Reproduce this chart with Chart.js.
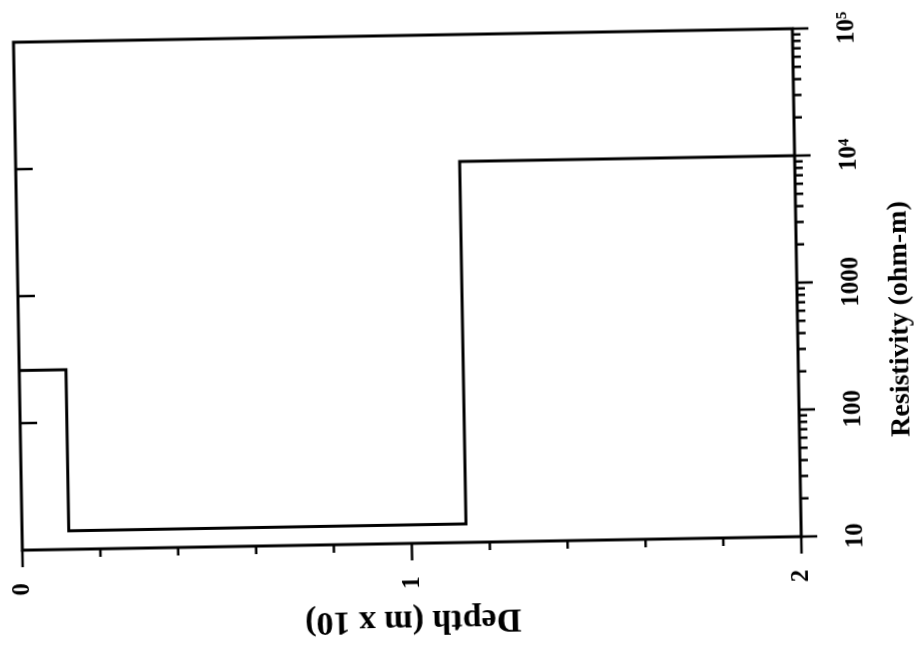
<!DOCTYPE html>
<html><head><meta charset="utf-8">
<script src="https://cdn.jsdelivr.net/npm/chart.js@4.4.0/dist/chart.umd.min.js"></script>
<style>
html,body{margin:0;padding:0;background:#fff;overflow:hidden;width:922px;height:649px;}
#wrap{position:absolute;left:136.5px;top:-136.5px;width:649px;height:922px;transform:rotate(-91deg);transform-origin:50% 50%;}
canvas{display:block;}
</style></head><body>
<div id="wrap"><canvas id="c" width="649" height="922"></canvas></div>
<script>
// Layered resistivity model (depth in m x 10, resistivity in ohm-m)
const layerTops = [0, 0.12, 1.14];
const layerBottoms = [0.12, 1.14, 2];
const layerResistivity = [260, 14, 10000];

// Axis ticks
const resistTickValues = [10, 100, 1000, 10000, 100000];
const resistTickLabels = ['10', '100', '1000', '10⁴', '10⁵'];
const resistMinorMultipliers = [2, 3, 4, 5, 6, 7, 8, 9];
const depthTickValues = [0, 1, 2];
const depthTickLabels = ['0', '1', '2'];
const depthMinorValues = [0.2, 0.4, 0.6, 0.8, 1.2, 1.4, 1.6, 1.8];
const oppositeAxisTickValues = [100, 1000, 10000];

const depthTitle = 'Depth (m x 10)';
const resistTitle = 'Resistivity (ohm-m)';

const points = [];
layerResistivity.forEach((r, i) => {
  points.push({x: r, y: layerTops[i]});
  points.push({x: r, y: layerBottoms[i]});
});

const FONT = 'Liberation Serif';

const frameTicks = {
  id: 'frameTicks',
  afterDraw(chart) {
    const {ctx, chartArea: a, scales: {x, y}} = chart;
    ctx.save();
    ctx.strokeStyle = '#000';
    ctx.lineWidth = 3;
    ctx.lineCap = 'square';
    ctx.strokeRect(a.left, a.top, a.right - a.left, a.bottom - a.top);
    ctx.lineCap = 'butt';
    ctx.lineWidth = 2.5;
    ctx.beginPath();
    resistTickValues.forEach(v => {
      const px = x.getPixelForValue(v);
      ctx.moveTo(px, a.bottom); ctx.lineTo(px, a.bottom + 16);
    });
    resistTickValues.slice(0, -1).forEach(d => {
      resistMinorMultipliers.forEach(m => {
        const px = x.getPixelForValue(d * m);
        ctx.moveTo(px, a.bottom); ctx.lineTo(px, a.bottom + 8);
      });
    });
    oppositeAxisTickValues.forEach(v => {
      const px = x.getPixelForValue(v);
      ctx.moveTo(px, a.top); ctx.lineTo(px, a.top + 17);
    });
    depthTickValues.forEach(v => {
      const py = y.getPixelForValue(v);
      ctx.moveTo(a.left, py); ctx.lineTo(a.left - 17, py);
    });
    depthMinorValues.forEach(v => {
      const py = y.getPixelForValue(v);
      ctx.moveTo(a.left, py); ctx.lineTo(a.left - 8, py);
    });
    ctx.stroke();
    ctx.fillStyle = '#000';
    ctx.font = 'bold 28px "' + FONT + '"';
    ctx.textAlign = 'center';
    ctx.textBaseline = 'middle';
    ctx.fillText(resistTitle, a.left + 0.425 * (a.right - a.left), a.bottom + 103);
    ctx.restore();
  }
};

new Chart(document.getElementById('c'), {
  type: 'line',
  data: {
    datasets: [{
      data: points,
      borderColor: '#000',
      borderWidth: 3,
      pointRadius: 0,
      fill: false,
      tension: 0,
      clip: false
    }]
  },
  options: {
    responsive: false,
    animation: false,
    devicePixelRatio: 1,
    layout: {padding: {left: 0, right: 34, top: 18, bottom: 0}},
    plugins: {legend: {display: false}, tooltip: {enabled: false}},
    scales: {
      x: {
        type: 'logarithmic',
        position: 'bottom',
        min: 10,
        max: 100000,
        afterBuildTicks(s) { s.ticks = resistTickValues.map(v => ({value: v})); },
        afterFit(s) { s.height = 125; s.paddingLeft = 0; s.paddingRight = 0; },
        grid: {display: false},
        border: {display: false},
        ticks: {
          autoSkip: false, maxRotation: 0, minRotation: 0, padding: 32, color: '#000',
          font: {family: FONT, size: 25, weight: 'bold'},
          callback(v) { const i = resistTickValues.indexOf(v); return i >= 0 ? resistTickLabels[i] : ''; }
        }
      },
      y: {
        type: 'linear',
        position: 'left',
        reverse: true,
        min: 0,
        max: 2,
        afterBuildTicks(s) { s.ticks = depthTickValues.map(v => ({value: v})); },
        afterFit(s) { s.width = 107; s.paddingTop = 0; s.paddingBottom = 0; },
        grid: {display: false},
        border: {display: false},
        ticks: {
          autoSkip: false, padding: 25, color: '#000',
          font: {family: FONT, size: 25, weight: 'bold'},
          callback(v) { const i = depthTickValues.indexOf(v); return i >= 0 ? depthTickLabels[i] : ''; }
        },
        title: {
          display: true, text: depthTitle, color: '#000',
          font: {family: FONT, size: 34, weight: 'bold'},
          padding: {top: 10, bottom: 0}
        }
      }
    }
  },
  plugins: [frameTicks]
});
</script>
</body></html>
